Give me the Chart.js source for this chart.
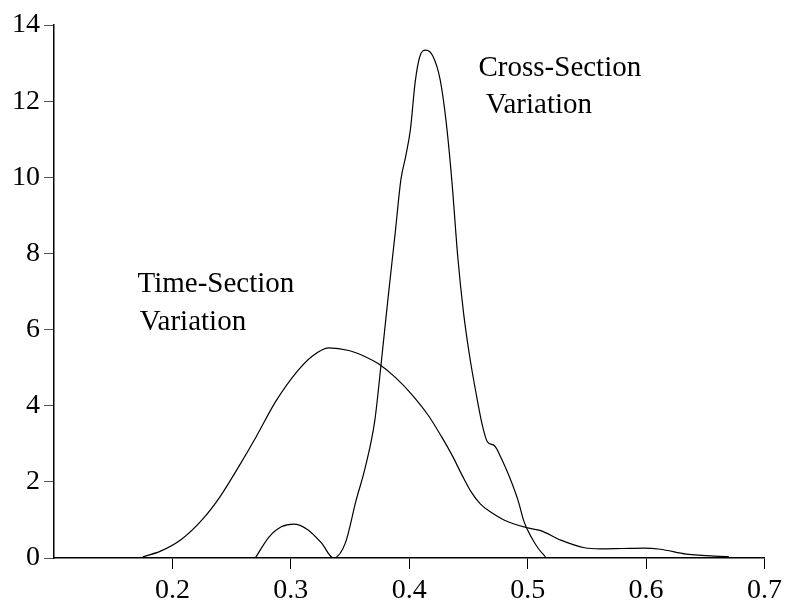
<!DOCTYPE html>
<html>
<head>
<meta charset="utf-8">
<title>Time-Section / Cross-Section Variation</title>
<style>
  html, body { margin: 0; padding: 0; background: #fff; }
  #wrap { width: 787px; height: 606px; }
</style>
</head>
<body>
<div id="wrap"><canvas id="myChart"></canvas></div>
<script src="https://cdn.jsdelivr.net/npm/chart.js"></script>
<script>
// density curves
const timeX = [0.175, 0.19, 0.208, 0.225, 0.24, 0.256, 0.271, 0.287, 0.304, 0.318, 0.332, 0.349, 0.362, 0.374, 0.388, 0.402, 0.416, 0.427, 0.437, 0.445, 0.452, 0.46, 0.47, 0.48, 0.5, 0.511, 0.528, 0.548, 0.561, 0.58, 0.598, 0.612, 0.634, 0.67];
const timeY = [0.03, 0.18, 0.5, 1.0, 1.6, 2.4, 3.2, 4.1, 4.85, 5.3, 5.52, 5.45, 5.3, 5.1, 4.75, 4.3, 3.75, 3.2, 2.65, 2.15, 1.75, 1.42, 1.18, 1.0, 0.79, 0.72, 0.47, 0.27, 0.24, 0.25, 0.26, 0.23, 0.1, 0.03];

const crossX = [0.27, 0.2815, 0.292, 0.3025, 0.314, 0.326, 0.336, 0.346, 0.355, 0.363, 0.371, 0.376, 0.382, 0.388, 0.393, 0.397, 0.401, 0.405, 0.409, 0.414, 0.42, 0.426, 0.431, 0.436, 0.441, 0.446, 0.451, 0.456, 0.462, 0.466, 0.472, 0.478, 0.485, 0.492, 0.497, 0.503, 0.509, 0.515];
const crossY = [0, 0.55, 0.82, 0.89, 0.75, 0.39, 0.0, 0.39, 1.5, 2.4, 3.63, 5.03, 6.8, 8.5, 9.95, 10.55, 11.26, 12.5, 13.18, 13.34, 13.18, 12.58, 11.5, 9.9, 7.9, 6.4, 5.3, 4.4, 3.45, 3.05, 2.95, 2.6, 2.1, 1.5, 0.95, 0.55, 0.25, 0.03];

// text labels placed in data units (left edge, baseline)
const noteText = ['Cross-Section', ' Variation', 'Time-Section', 'Variation'];
const noteX = [0.4585, 0.4585, 0.1705, 0.1725];
const noteY = [12.65, 11.7, 6.98, 6.0];

const xMin = 0.1, xMax = 0.7, xStep = 0.1;
const yMin = 0, yMax = 14, yStep = 2;

const serif = "'Liberation Serif', 'Times New Roman', serif";

function pts(xs, ys) {
  return xs.map((x, i) => ({ x: x, y: ys[i] }));
}

const notes = {
  id: 'notes',
  afterDatasetsDraw(chart) {
    const c = chart.ctx;
    const sx = chart.scales.x, sy = chart.scales.y;
    c.save();
    c.fillStyle = '#000';
    c.font = '29px ' + serif;
    c.textAlign = 'left';
    c.textBaseline = 'alphabetic';
    noteText.forEach((t, i) => {
      c.fillText(t, sx.getPixelForValue(noteX[i]), sy.getPixelForValue(noteY[i]));
    });
    c.restore();
  }
};

const lineStyle = {
  borderColor: '#000',
  borderWidth: 1.2,
  pointRadius: 0,
  fill: false,
  tension: 0.4,
  cubicInterpolationMode: 'monotone'
};

const ctx = document.getElementById('myChart').getContext('2d');
const myChart = new Chart(ctx, {
  type: 'line',
  data: {
    datasets: [
      Object.assign({ label: 'Time-Section Variation', data: pts(timeX, timeY) }, lineStyle),
      Object.assign({ label: 'Cross-Section Variation', data: pts(crossX, crossY) }, lineStyle)
    ]
  },
  options: {
    responsive: true,
    maintainAspectRatio: false,
    animation: false,
    devicePixelRatio: 1,
    layout: { padding: { top: 25, right: 19, left: 0, bottom: 0 } },
    plugins: {
      legend: { display: false },
      tooltip: { enabled: false }
    },
    scales: {
      x: {
        type: 'linear',
        min: xMin,
        max: xMax,
        border: { display: true, color: '#000', width: 1.5 },
        grid: {
          drawOnChartArea: false,
          drawTicks: true,
          tickLength: 11,
          color: (c) => (c.index === 0 ? 'rgba(0,0,0,0)' : '#000')
        },
        ticks: {
          stepSize: xStep,
          color: '#000',
          padding: 5,
          maxRotation: 0,
          font: { family: serif, size: 28 },
          callback: (v, i) => (i === 0 ? '' : Number(v).toFixed(1))
        },
        afterFit: (s) => { s.height = 48; }
      },
      y: {
        min: yMin,
        max: yMax,
        border: { display: true, color: '#000', width: 1.5 },
        grid: {
          drawOnChartArea: false,
          drawTicks: true,
          tickLength: 10,
          color: '#555'
        },
        ticks: {
          stepSize: yStep,
          color: '#000',
          padding: 4,
          font: { family: serif, size: 28 }
        },
        afterFit: (s) => { s.width = 54; }
      }
    }
  },
  plugins: [notes]
});
</script>
</body>
</html>
